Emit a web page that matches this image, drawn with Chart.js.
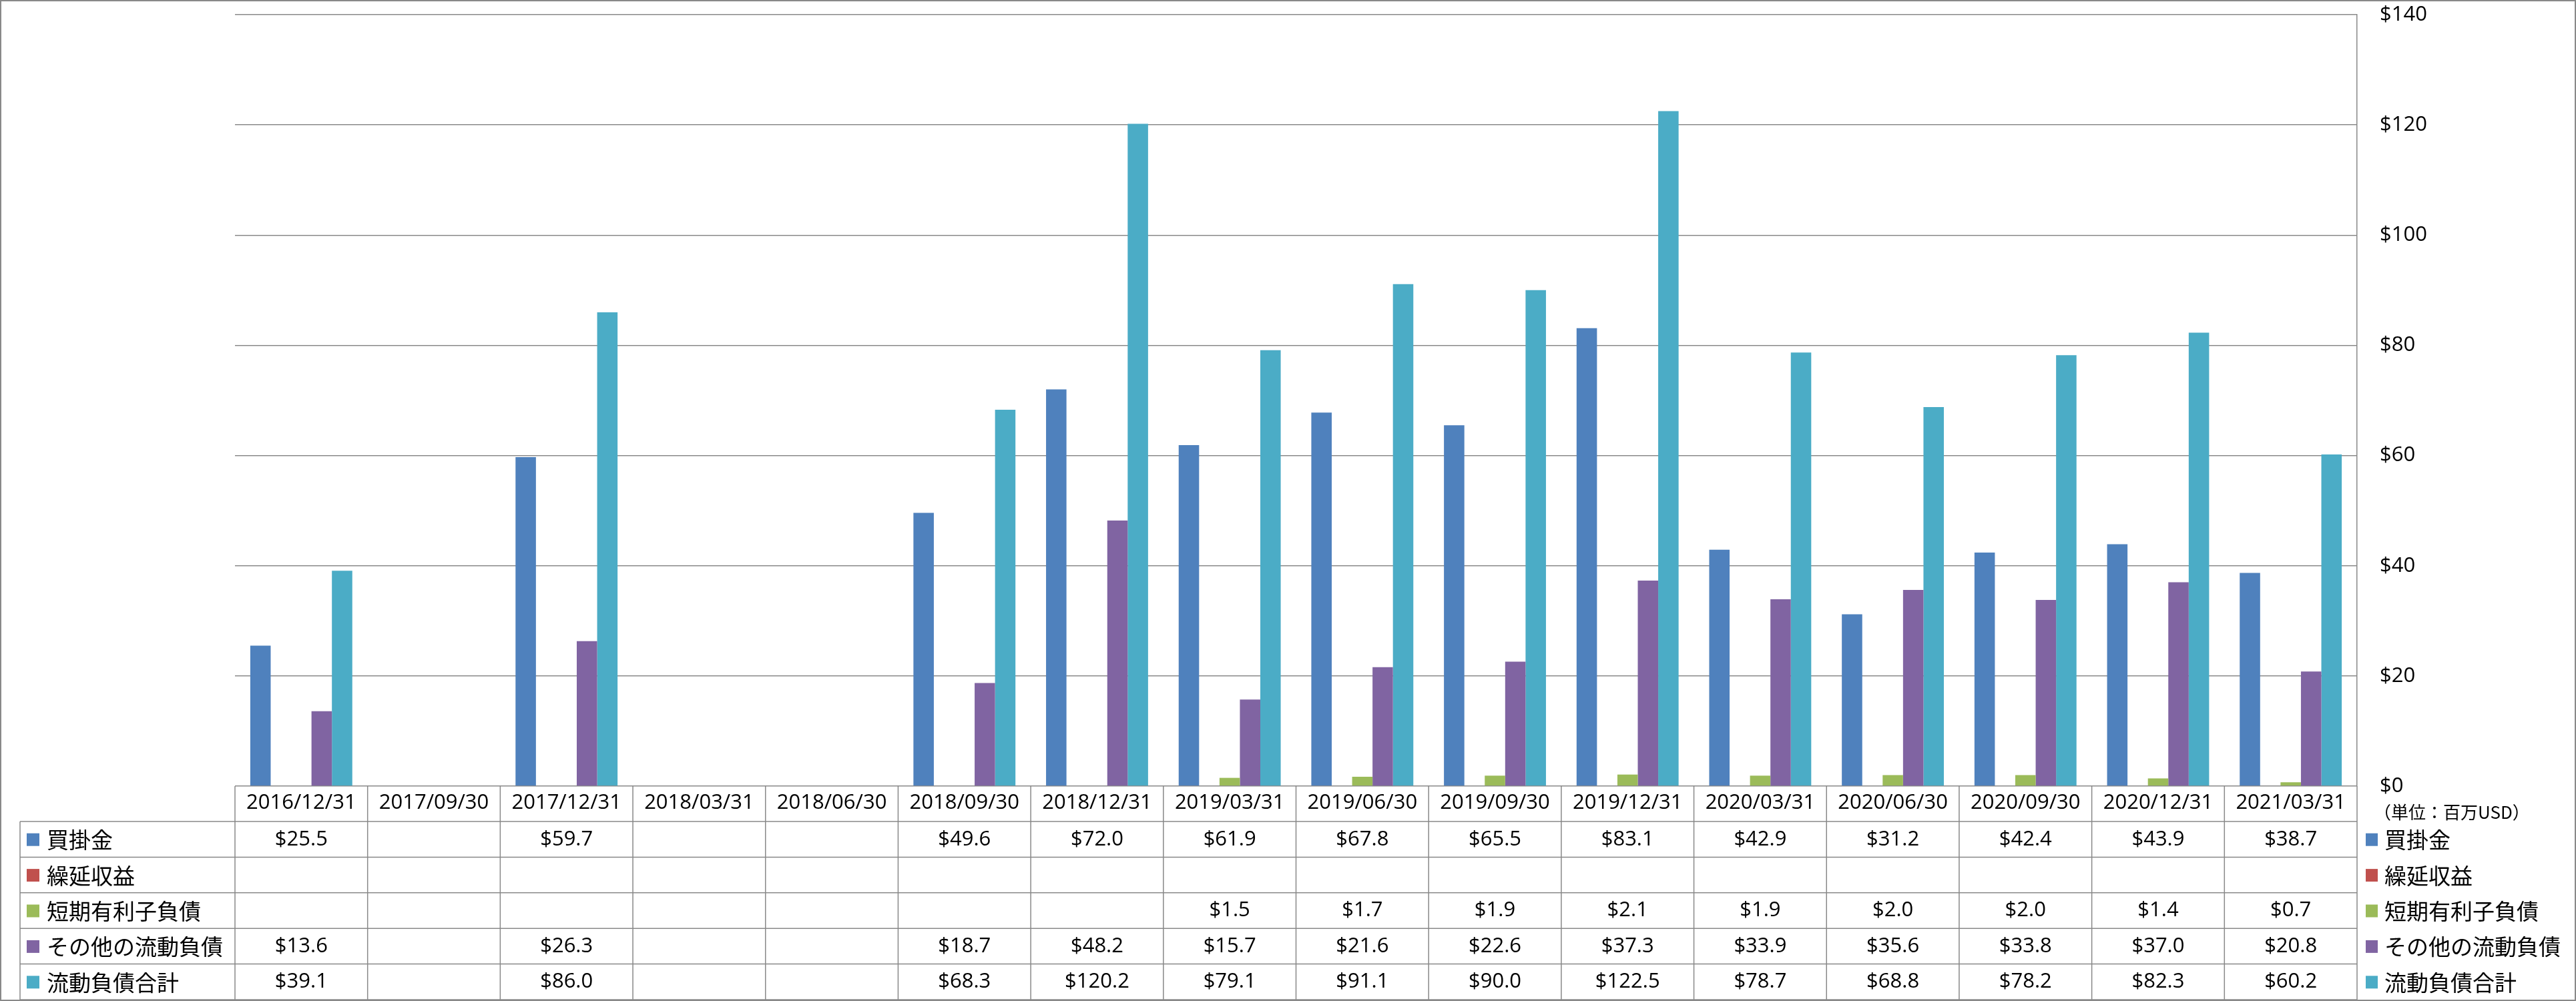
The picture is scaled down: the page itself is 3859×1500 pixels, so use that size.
<!DOCTYPE html>
<html>
<head>
<meta charset="utf-8">
<script src="https://cdn.jsdelivr.net/npm/chart.js@4/dist/chart.umd.min.js"></script>
<style>
html,body{margin:0;padding:0;background:#fff;}
canvas{display:block;}
</style>
</head>
<body>
<canvas id="c" width="3859" height="1500"></canvas>
<script>
const categories = ['2016/12/31','2017/09/30','2017/12/31','2018/03/31','2018/06/30','2018/09/30','2018/12/31','2019/03/31','2019/06/30','2019/09/30','2019/12/31','2020/03/31','2020/06/30','2020/09/30','2020/12/31','2021/03/31'];
const seriesNames = ['買掛金','繰延収益','短期有利子負債','その他の流動負債','流動負債合計'];
const accountsPayable = [25.5,null,59.7,null,null,49.6,72.0,61.9,67.8,65.5,83.1,42.9,31.2,42.4,43.9,38.7];
const deferredRevenue = [null,null,null,null,null,null,null,null,null,null,null,null,null,null,null,null];
const shortTermDebt = [null,null,null,null,null,null,null,1.5,1.7,1.9,2.1,1.9,2.0,2.0,1.4,0.7];
const otherCurrent = [13.6,null,26.3,null,null,18.7,48.2,15.7,21.6,22.6,37.3,33.9,35.6,33.8,37.0,20.8];
const totalCurrent = [39.1,null,86.0,null,null,68.3,120.2,79.1,91.1,90.0,122.5,78.7,68.8,78.2,82.3,60.2];
const seriesColors = ['#4F81BD','#C0504D','#9BBB59','#8064A2','#4BACC6'];
const unitLabel = '（単位：百万USD）';
const yTickStep = 20, yMin = 0, yMax = 140;

const W = 3859, H = 1500;
const LINE = '#898989';
const NUMFONT = "31px 'Open Sans', 'Noto Sans', sans-serif";
const JPFONT = "33px 'Noto Sans CJK JP', sans-serif";

const seriesData = [accountsPayable, deferredRevenue, shortTermDebt, otherCurrent, totalCurrent];

const tablePlugin = {
  id: 'tablePlugin',
  afterDraw(chart) {
    const ctx = chart.ctx;
    const xs = chart.scales.x;
    const area = chart.chartArea;
    const n = categories.length;
    const colW = (area.right - area.left) / n;
    const top = xs.bottom;
    const bottom = H - 2;
    const rh = (bottom - top) / seriesNames.length;
    const tableLeft = 30;
    ctx.save();
    ctx.strokeStyle = LINE;
    ctx.lineWidth = 1.5;
    ctx.beginPath();
    for (let r = 0; r <= seriesNames.length; r++) {
      const y = top + r * rh;
      ctx.moveTo(tableLeft, y); ctx.lineTo(area.right, y);
    }
    for (let i = 0; i <= n; i++) {
      const x = area.left + i * colW;
      ctx.moveTo(x, area.bottom); ctx.lineTo(x, bottom);
    }
    ctx.moveTo(tableLeft, top); ctx.lineTo(tableLeft, bottom);
    ctx.stroke();

    ctx.fillStyle = '#000';
    ctx.textBaseline = 'middle';
    for (let r = 0; r < seriesNames.length; r++) {
      const cy = top + r * rh + rh / 2;
      ctx.fillStyle = seriesColors[r];
      ctx.fillRect(40, cy - 9, 19, 19);
      ctx.fillStyle = '#000';
      ctx.font = JPFONT;
      ctx.textAlign = 'left';
      ctx.fillText(seriesNames[r], 70, cy + 1);
      ctx.fillStyle = seriesColors[r];
      ctx.fillRect(3544, cy - 9, 18, 19);
      ctx.fillStyle = '#000';
      ctx.fillText(seriesNames[r], 3572, cy + 1);
      ctx.font = NUMFONT;
      ctx.textAlign = 'center';
      const d = chart.data.datasets[r].data;
      for (let i = 0; i < n; i++) {
        if (d[i] === null || d[i] === undefined) continue;
        ctx.fillText('$' + d[i].toFixed(1), xs.getPixelForValue(i), cy);
      }
    }
    ctx.font = "26px 'Noto Sans CJK JP', sans-serif";
    ctx.textAlign = 'left';
    ctx.fillText(unitLabel, 3556, 1217);

    ctx.strokeStyle = LINE;
    ctx.lineWidth = 2;
    ctx.strokeRect(1, 1, W - 2, H - 2);
    ctx.restore();
  }
};

new Chart(document.getElementById('c'), {
  type: 'bar',
  data: {
    labels: categories,
    datasets: seriesNames.map((name, k) => ({
      label: name,
      data: seriesData[k],
      backgroundColor: seriesColors[k],
      borderWidth: 0,
      categoryPercentage: 5 / 6.5,
      barPercentage: 1.0
    }))
  },
  options: {
    responsive: false,
    devicePixelRatio: 1,
    animation: false,
    layout: { padding: { left: 352, top: 22, right: 0, bottom: 269 } },
    plugins: { legend: { display: false }, tooltip: { enabled: false } },
    scales: {
      x: {
        position: 'bottom',
        grid: { display: false, drawTicks: false },
        border: { display: false },
        ticks: {
          autoSkip: false, maxRotation: 0, minRotation: 0, padding: 7,
          color: '#000',
          font: { family: "'Open Sans', 'Noto Sans', sans-serif", size: 31 }
        },
        afterFit(axis) { axis.height = 53; axis.paddingLeft = 0; axis.paddingRight = 0; }
      },
      y: {
        position: 'right',
        min: yMin, max: yMax,
        grid: { color: LINE, lineWidth: 1.5, drawTicks: false },
        border: { display: true, color: LINE, width: 1.5 },
        ticks: {
          stepSize: yTickStep, padding: 34, color: '#000',
          font: { family: "'Open Sans', 'Noto Sans', sans-serif", size: 31 },
          callback: v => '$' + v
        },
        afterFit(axis) { axis.width = 328; axis.paddingTop = 0; axis.paddingBottom = 0; }
      }
    }
  },
  plugins: [tablePlugin]
});
</script>
</body>
</html>
